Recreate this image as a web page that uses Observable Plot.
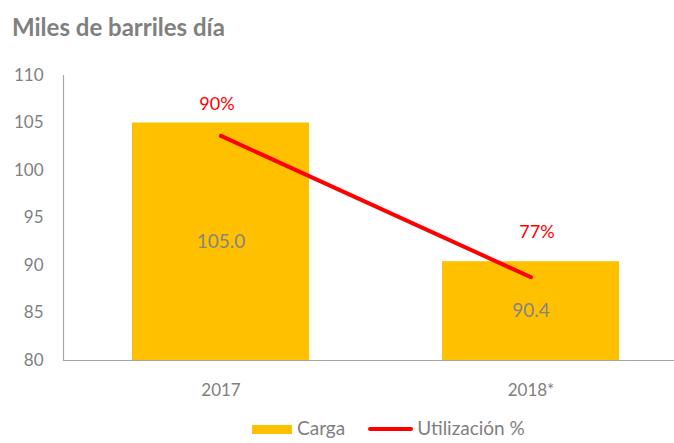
<!DOCTYPE html>
<html>
<head>
<meta charset="utf-8">
<script src="https://cdn.jsdelivr.net/npm/d3@7"></script>
<script src="https://cdn.jsdelivr.net/npm/@observablehq/plot@0.6"></script>
<style>
  html, body { margin: 0; padding: 0; background: #fff; overflow: hidden; }
  body { width: 674px; height: 443px; position: relative; font-family: Lato, "Open Sans", sans-serif; }
  #title { position: absolute; left: 12px; top: 11px; font-size: 24px; font-weight: bold; color: #808080; line-height: 32px; white-space: nowrap; }
  #chart { position: absolute; left: 0; top: 55px; width: 688px; }
  #chart svg { max-width: none !important; }
  #legend { position: absolute; left: 252px; top: 416px; height: 24px; line-height: 24px; display: flex; align-items: center; font-size: 19px; color: #808080; white-space: nowrap; }
  .sw-bar { width: 40px; height: 9px; background: #FFC000; margin-right: 5px; margin-top: 3px; }
  .sw-line { width: 45px; height: 4px; background: #FF0000; margin-left: 23px; margin-right: 4px; border-radius: 2px; margin-top: 2px; }
</style>
</head>
<body>
<div id="title">Miles de barriles día</div>
<div id="chart"></div>
<div id="legend"><span class="sw-bar"></span><span>Carga</span><span class="sw-line"></span><span>Utilización %</span></div>
<script>
const years = ["2017", "2018*"];
const carga = [105.0, 90.4];
const utilizacion = [89.7, 77.3];      // % (secondary axis)
const utilLabels = ["90%", "77%"];
const yTicks = [80, 85, 90, 95, 100, 105, 110];
const secondaryDomain = [70, 95];       // hidden secondary axis, %

const data = years.map((y, i) => ({year: y, carga: carga[i], util: utilizacion[i], label: utilLabels[i]}));
const y2 = d3.scaleLinear(secondaryDomain, [80, 110]);

const plot = Plot.plot({
  width: 688,
  height: 350,
  marginLeft: 63,
  marginRight: 0,
  marginTop: 20,
  marginBottom: 45,
  style: {fontFamily: "Lato, 'Open Sans', sans-serif", fontSize: "17px", color: "#808080", background: "transparent", maxWidth: "none"},
  x: {domain: years, paddingInner: 0.43, paddingOuter: 0.22, label: null},
  y: {domain: [80, 110], ticks: yTicks, label: null},
  marks: [
    Plot.barY(data, {x: "year", y1: 80, y2: "carga", fill: "#FFC000"}),
    Plot.axisY({ticks: yTicks, tickSize: 0, tickPadding: 20, label: null, fill: "#808080", fontSize: 17}),
    Plot.axisX({tickSize: 0, tickPadding: 23, label: null, fill: "#808080", fontSize: 17}),
    Plot.frame({anchor: "left", stroke: "#a6a6a6", strokeWidth: 1.2}),
    Plot.ruleY([80], {stroke: "#a6a6a6", strokeWidth: 1.2}),
    Plot.text(data, {x: "year", y: d => (d.carga + 80) / 2, text: d => d.carga.toFixed(1), fill: "#858585", fontSize: 19}),
    Plot.line(data, {x: "year", y: d => y2(d.util), stroke: "#FF0000", strokeWidth: 4, strokeLinecap: "round"}),
    Plot.text(data.slice(0, 1), {x: "year", y: d => y2(d.util), text: "label", fill: "#FF0000", fontSize: 18, dy: -32, dx: -4}),
    Plot.text(data.slice(1), {x: "year", y: d => y2(d.util), text: "label", fill: "#FF0000", fontSize: 18, dy: -45, dx: 6})
  ]
});
document.getElementById("chart").appendChild(plot);
</script>
</body>
</html>
